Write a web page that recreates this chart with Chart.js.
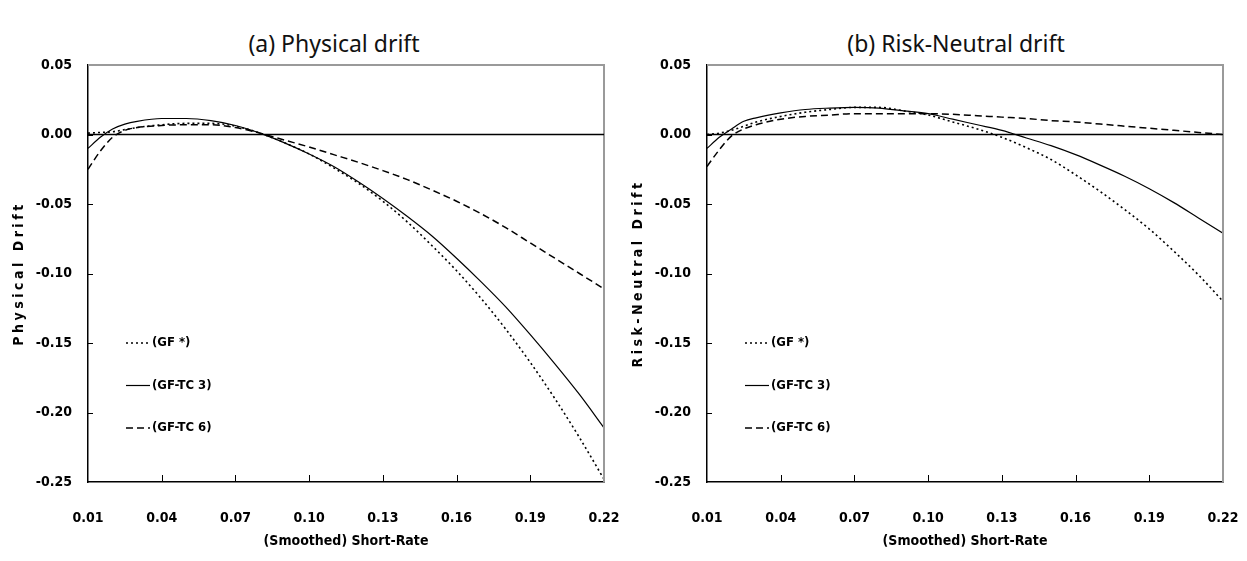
<!DOCTYPE html>
<html>
<head>
<meta charset="utf-8">
<script src="https://cdn.jsdelivr.net/npm/chart.js@4/dist/chart.umd.min.js"></script>
<style>
  body { margin: 0; background: #fff; width: 1247px; height: 561px; overflow: hidden; position: relative; }
  .panel { position: absolute; top: 0; height: 561px; }
  .title { position: absolute; top: 27px; font-family: 'Noto Sans', sans-serif; font-size: 23px; color: #111; white-space: nowrap; transform: translateX(-50%); }
</style>
</head>
<body>
<div class="title" style="left:334px">(a) Physical drift</div>
<div class="title" style="left:956px">(b) Risk-Neutral drift</div>
<div class="panel" style="left:0;width:620px"><canvas id="phys_chart"></canvas></div>
<div class="panel" style="left:619px;width:628px"><canvas id="rn_chart"></canvas></div>
<script>
// short-rate grid (x)
const short_rate = [0.01, 0.015, 0.02, 0.025, 0.03, 0.04, 0.05, 0.06, 0.07, 0.08, 0.09, 0.10,
    0.11, 0.12, 0.13, 0.14, 0.15, 0.16, 0.17, 0.18, 0.19, 0.20, 0.21, 0.22];

const x_ticks = [0.01, 0.04, 0.07, 0.10, 0.13, 0.16, 0.19, 0.22];
const y_ticks = [0.05, 0.00, -0.05, -0.10, -0.15, -0.20, -0.25];

const series_labels = ['(GF *)', '(GF-TC 3)', '(GF-TC 6)'];

// (a) physical drift
const phys_gf = [0.001, 0.0015, 0.002, 0.0035, 0.005, 0.007, 0.008, 0.008, 0.006, 0.001, -0.006, -0.014,
    -0.024, -0.035, -0.048, -0.063, -0.080, -0.098, -0.118, -0.140, -0.164, -0.190, -0.218, -0.248];
const phys_tc3 = [-0.010, -0.002, 0.004, 0.0075, 0.0095, 0.0115, 0.0115, 0.010, 0.0065, 0.001, -0.006, -0.014,
    -0.023, -0.034, -0.046, -0.059, -0.073, -0.089, -0.106, -0.124, -0.144, -0.165, -0.187, -0.211];
const phys_tc6 = [-0.025, -0.012, -0.002, 0.003, 0.005, 0.0065, 0.007, 0.007, 0.005, 0.001, -0.004, -0.009,
    -0.0145, -0.020, -0.026, -0.0325, -0.040, -0.048, -0.057, -0.067, -0.078, -0.089, -0.100, -0.111];

// (b) risk-neutral drift
const rn_gf = [0.000, 0.001, 0.003, 0.006, 0.009, 0.013, 0.016, 0.018, 0.0195, 0.0195, 0.017, 0.014,
    0.009, 0.004, -0.002, -0.0095, -0.018, -0.029, -0.041, -0.054, -0.068, -0.084, -0.101, -0.120];
const rn_tc3 = [-0.010, -0.002, 0.004, 0.0095, 0.012, 0.0155, 0.018, 0.019, 0.0195, 0.019, 0.017, 0.015,
    0.011, 0.007, 0.003, -0.0025, -0.008, -0.0145, -0.022, -0.030, -0.039, -0.049, -0.060, -0.071];
const rn_tc6 = [-0.023, -0.011, -0.001, 0.004, 0.007, 0.011, 0.013, 0.014, 0.015, 0.015, 0.015, 0.015,
    0.0145, 0.0135, 0.0125, 0.0115, 0.010, 0.009, 0.0075, 0.006, 0.0045, 0.003, 0.0015, 0.000];

const font_family = "'Liberation Sans Narrow', 'DejaVu Sans Condensed', sans-serif";
const label_font = { family: font_family, size: 14, weight: 'bold' };
const axis_title_font = { family: font_family, size: 14, weight: 'bold' };
const line_styles = [
    { borderDash: [2, 3], borderWidth: 1.6 },
    { borderDash: [], borderWidth: 1.2 },
    { borderDash: [7, 4], borderWidth: 1.5 }
];

function to_points(ys) {
    return short_rate.map((x, i) => ({ x: x, y: ys[i] }));
}

// frame, zero line, inward ticks and legend
const frame_plugin = {
    id: 'frame',
    afterDraw(chart) {
        const ctx = chart.ctx;
        const a = chart.chartArea;
        const xs = chart.scales.x, ys = chart.scales.y;
        ctx.save();
        ctx.strokeStyle = '#9a9a9a';
        ctx.lineWidth = 2;
        ctx.beginPath();
        ctx.moveTo(a.left, a.top);
        ctx.lineTo(a.right, a.top);
        ctx.lineTo(a.right, a.bottom);
        ctx.stroke();

        ctx.strokeStyle = '#000';
        ctx.lineWidth = 1.3;
        const y0 = ys.getPixelForValue(0);
        ctx.beginPath();
        ctx.moveTo(a.left, y0);
        ctx.lineTo(a.right, y0);
        ctx.stroke();

        ctx.lineWidth = 1;
        ctx.beginPath();
        x_ticks.slice(1, -1).forEach(v => {
            const px = Math.round(xs.getPixelForValue(v)) + 0.5;
            ctx.moveTo(px, a.bottom);
            ctx.lineTo(px, a.bottom - 7);
        });
        y_ticks.slice(1, -1).forEach(v => {
            const py = Math.round(ys.getPixelForValue(v)) + 0.5;
            ctx.moveTo(a.left, py);
            ctx.lineTo(a.left + 5, py);
        });
        ctx.stroke();

        // legend
        ctx.font = 'bold 13px ' + font_family;
        ctx.textBaseline = 'middle';
        ctx.fillStyle = '#000';
        chart.data.datasets.forEach((ds, i) => {
            const ly = a.top + 278 + i * 42.5;
            const lx = a.left + 38;
            ctx.setLineDash(ds.borderDash);
            ctx.lineWidth = ds.borderWidth;
            ctx.beginPath();
            ctx.moveTo(lx, ly);
            ctx.lineTo(lx + 24, ly);
            ctx.stroke();
            ctx.setLineDash([]);
            ctx.fillText(ds.label, lx + 26, ly);
        });
        ctx.restore();
    }
};

// spaced-out lettering for the vertical axis title
function spaced_title(scale) {
    if (scale._spaced) return;
    scale._spaced = true;
    const orig = scale.drawTitle;
    scale.drawTitle = function() {
        const ctx = this.ctx;
        const prev = ctx.letterSpacing;
        ctx.letterSpacing = '3.5px';
        orig.call(this);
        ctx.letterSpacing = prev || '0px';
    };
}

function make_chart(canvas_id, y_title, values, right_pad) {
    const datasets = values.map((ys, i) => Object.assign({
        label: series_labels[i],
        data: to_points(ys),
        borderColor: '#000',
        pointRadius: 0,
        fill: false,
        cubicInterpolationMode: 'monotone'
    }, line_styles[i]));

    return new Chart(document.getElementById(canvas_id).getContext('2d'), {
        type: 'line',
        data: { datasets: datasets },
        options: {
            responsive: true,
            maintainAspectRatio: false,
            animation: false,
            layout: { padding: { top: 65, right: right_pad, left: 0, bottom: 0 } },
            plugins: { legend: { display: false }, tooltip: { enabled: false } },
            scales: {
                x: {
                    type: 'linear',
                    min: 0.01, max: 0.22,
                    afterBuildTicks: s => { s.ticks = x_ticks.map(v => ({ value: v })); },
                    afterFit: s => { s.height = 79; s.paddingLeft = 0; s.paddingRight = 0; },
                    grid: { display: false, drawTicks: false },
                    border: { display: true, color: '#000', width: 1.5 },
                    ticks: { color: '#000', font: label_font, padding: 28, maxRotation: 0,
                        callback: v => v.toFixed(2) },
                    title: { display: true, text: '(Smoothed) Short-Rate', color: '#000',
                        font: label_font, padding: { top: 0, bottom: 11 } }
                },
                y: {
                    min: -0.25, max: 0.05,
                    afterBuildTicks: s => { s.ticks = y_ticks.map(v => ({ value: v })); },
                    afterFit: s => { s.width = 88; s.paddingTop = 0; s.paddingBottom = 0; spaced_title(s); },
                    grid: { display: false, drawTicks: false },
                    border: { display: true, color: '#000', width: 1.5 },
                    ticks: { color: '#000', font: label_font, padding: 16,
                        callback: v => v.toFixed(2) },
                    title: { display: true, text: y_title, color: '#000',
                        font: axis_title_font, padding: { top: 11, bottom: 0 } }
                }
            }
        },
        plugins: [frame_plugin]
    });
}

window.onload = function() {
    make_chart('phys_chart', 'Physical Drift', [phys_gf, phys_tc3, phys_tc6], 16);
    make_chart('rn_chart', 'Risk-Neutral Drift', [rn_gf, rn_tc3, rn_tc6], 24);
};
</script>
</body>
</html>
